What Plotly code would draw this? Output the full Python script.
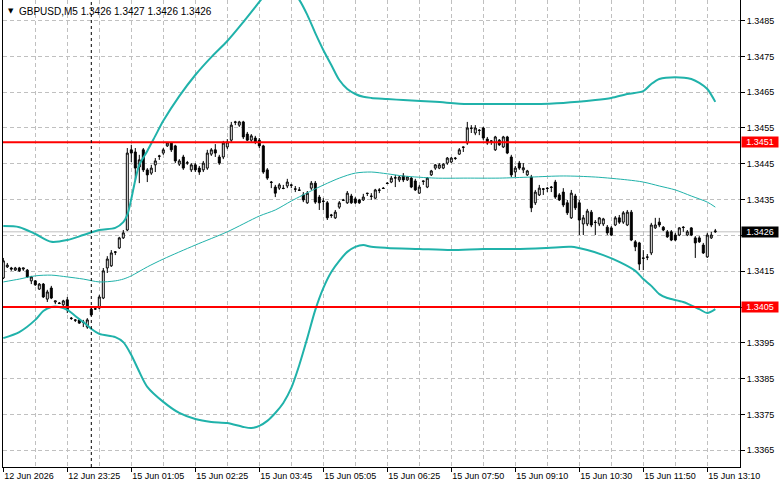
import plotly.graph_objects as go

# ---------------- data ----------------
symbol_title = "GBPUSD,M5 1.3426 1.3427 1.3426 1.3426"

opens = [1.34131,1.34162,1.34159,1.34153,1.34159,1.34156,1.34153,1.34123,1.34123,1.34100,
1.34114,1.34072,1.34103,1.34064,1.34061,1.34056,1.34070,1.34019,1.34014,1.34014,
1.34008,1.33994,1.34044,1.34044,1.34047,1.34075,1.34159,1.34165,1.34204,1.34215,
1.34243,1.34265,1.34489,1.34483,1.34441,1.34489,1.34433,1.34424,1.34447,1.34472,
1.34480,1.34500,1.34508,1.34500,1.34449,1.34469,1.34452,1.34433,1.34447,1.34438,
1.34433,1.34438,1.34477,1.34489,1.34469,1.34469,1.34497,1.34516,1.34567,1.34558,
1.34567,1.34533,1.34516,1.34522,1.34516,1.34500,1.34433,1.34399,1.34385,1.34382,
1.34382,1.34388,1.34391,1.34380,1.34377,1.34363,1.34341,1.34382,1.34396,1.34357,
1.34346,1.34341,1.34307,1.34299,1.34329,1.34349,1.34341,1.34360,1.34352,1.34349,
1.34349,1.34368,1.34360,1.34354,1.34377,1.34382,1.34396,1.34399,1.34410,1.34405,
1.34416,1.34405,1.34410,1.34402,1.34368,1.34402,1.34385,1.34419,1.34438,1.34438,
1.34438,1.34452,1.34455,1.34466,1.34477,1.34497,1.34508,1.34550,1.34536,1.34544,
1.34550,1.34519,1.34514,1.34489,1.34516,1.34497,1.34525,1.34469,1.34427,1.34452,
1.34433,1.34419,1.34413,1.34341,1.34363,1.34380,1.34382,1.34385,1.34399,1.34363,
1.34371,1.34341,1.34299,1.34360,1.34341,1.34282,1.34282,1.34315,1.34287,1.34282,
1.34282,1.34273,1.34271,1.34279,1.34299,1.34287,1.34279,1.34315,1.34232,1.34229,
1.34187,1.34190,1.34201,1.34271,1.34287,1.34273,1.34260,1.34260,1.34251,1.34251,
1.34273,1.34251,1.34271,1.34243,1.34243,1.34223,1.34190,1.34243,1.34260]

highs = [1.34187,1.34173,1.34162,1.34162,1.34162,1.34159,1.34156,1.34137,1.34125,1.34117,
1.34117,1.34098,1.34109,1.34067,1.34064,1.34070,1.34078,1.34022,1.34016,1.34016,
1.34014,1.34019,1.34047,1.34047,1.34084,1.34159,1.34192,1.34209,1.34206,1.34246,
1.34265,1.34494,1.34503,1.34494,1.34475,1.34494,1.34438,1.34447,1.34466,1.34475,
1.34494,1.34511,1.34511,1.34503,1.34463,1.34475,1.34458,1.34452,1.34452,1.34444,
1.34458,1.34489,1.34494,1.34505,1.34475,1.34514,1.34519,1.34567,1.34570,1.34570,
1.34570,1.34539,1.34533,1.34528,1.34522,1.34503,1.34438,1.34402,1.34391,1.34396,
1.34391,1.34408,1.34394,1.34388,1.34385,1.34371,1.34374,1.34402,1.34402,1.34363,
1.34354,1.34346,1.34310,1.34321,1.34346,1.34352,1.34374,1.34366,1.34357,1.34352,
1.34366,1.34369,1.34368,1.34380,1.34382,1.34385,1.34399,1.34416,1.34419,1.34416,
1.34424,1.34416,1.34413,1.34408,1.34391,1.34403,1.34413,1.34433,1.34449,1.34452,
1.34452,1.34469,1.34469,1.34469,1.34494,1.34498,1.34567,1.34558,1.34558,1.34547,
1.34553,1.34525,1.34516,1.34528,1.34519,1.34528,1.34528,1.34475,1.34444,1.34458,
1.34452,1.34433,1.34419,1.34377,1.34391,1.34382,1.34385,1.34388,1.34405,1.34368,
1.34382,1.34349,1.34377,1.34366,1.34349,1.34307,1.34324,1.34321,1.34293,1.34301,
1.34299,1.34279,1.34276,1.34304,1.34307,1.34318,1.34321,1.34321,1.34237,1.34232,
1.34209,1.34198,1.34285,1.34299,1.34299,1.34276,1.34265,1.34265,1.34257,1.34273,
1.34276,1.34265,1.34273,1.34248,1.34248,1.34229,1.34257,1.34260,1.34268]

lows = [1.34128,1.34159,1.34151,1.34151,1.34148,1.34151,1.34131,1.34114,1.34109,1.34098,
1.34075,1.34064,1.34072,1.34058,1.34058,1.34053,1.34033,1.34014,1.34008,1.34003,
1.33994,1.33989,1.34025,1.34042,1.34044,1.34072,1.34145,1.34162,1.34195,1.34212,
1.34240,1.34262,1.34455,1.34405,1.34396,1.34427,1.34399,1.34419,1.34427,1.34461,
1.34475,1.34497,1.34483,1.34452,1.34444,1.34433,1.34447,1.34427,1.34427,1.34419,
1.34427,1.34433,1.34472,1.34469,1.34447,1.34463,1.34491,1.34511,1.34558,1.34553,
1.34519,1.34514,1.34511,1.34505,1.34494,1.34422,1.34405,1.34382,1.34357,1.34377,
1.34379,1.34382,1.34382,1.34371,1.34374,1.34343,1.34338,1.34377,1.34338,1.34321,
1.34321,1.34293,1.34299,1.34296,1.34324,1.34346,1.34338,1.34338,1.34338,1.34338,
1.34346,1.34360,1.34349,1.34352,1.34368,1.34380,1.34393,1.34396,1.34385,1.34399,
1.34399,1.34402,1.34382,1.34374,1.34366,1.34391,1.34382,1.34416,1.34433,1.34435,
1.34435,1.34447,1.34452,1.34461,1.34475,1.34483,1.34503,1.34536,1.34530,1.34530,
1.34516,1.34503,1.34503,1.34486,1.34500,1.34494,1.34477,1.34413,1.34413,1.34433,
1.34424,1.34416,1.34315,1.34335,1.34360,1.34363,1.34371,1.34371,1.34352,1.34346,
1.34329,1.34307,1.34296,1.34321,1.34251,1.34251,1.34276,1.34273,1.34251,1.34276,
1.34276,1.34251,1.34248,1.34276,1.34282,1.34282,1.34276,1.34234,1.34206,1.34153,
1.34153,1.34181,1.34195,1.34268,1.34273,1.34262,1.34243,1.34234,1.34234,1.34248,
1.34260,1.34248,1.34248,1.34187,1.34229,1.34198,1.34187,1.34240,1.34257]

closes = [1.34179,1.34167,1.34156,1.34159,1.34151,1.34159,1.34134,1.34134,1.34112,1.34114,
1.34078,1.34092,1.34075,1.34067,1.34060,1.34067,1.34042,1.34018,1.34013,1.34005,
1.34007,1.34014,1.34028,1.34045,1.34078,1.34151,1.34184,1.34201,1.34203,1.34243,
1.34257,1.34480,1.34480,1.34438,1.34461,1.34433,1.34419,1.34438,1.34458,1.34471,
1.34489,1.34508,1.34489,1.34458,1.34458,1.34438,1.34453,1.34447,1.34433,1.34427,
1.34452,1.34480,1.34489,1.34480,1.34452,1.34508,1.34511,1.34558,1.34566,1.34567,
1.34525,1.34516,1.34528,1.34511,1.34500,1.34427,1.34410,1.34398,1.34368,1.34391,
1.34381,1.34399,1.34390,1.34379,1.34376,1.34349,1.34368,1.34396,1.34343,1.34341,
1.34345,1.34299,1.34306,1.34315,1.34341,1.34348,1.34368,1.34341,1.34341,1.34341,
1.34357,1.34367,1.34359,1.34377,1.34376,1.34381,1.34395,1.34410,1.34411,1.34413,
1.34405,1.34413,1.34385,1.34377,1.34385,1.34401,1.34410,1.34430,1.34447,1.34447,
1.34449,1.34466,1.34466,1.34465,1.34489,1.34496,1.34550,1.34549,1.34550,1.34543,
1.34522,1.34508,1.34513,1.34525,1.34503,1.34525,1.34480,1.34419,1.34438,1.34438,
1.34439,1.34430,1.34327,1.34371,1.34382,1.34379,1.34381,1.34384,1.34357,1.34349,
1.34335,1.34313,1.34368,1.34327,1.34293,1.34299,1.34318,1.34279,1.34286,1.34299,
1.34296,1.34257,1.34251,1.34299,1.34287,1.34313,1.34315,1.34237,1.34218,1.34170,
1.34186,1.34189,1.34279,1.34279,1.34279,1.34265,1.34246,1.34237,1.34237,1.34271,
1.34272,1.34260,1.34251,1.34229,1.34232,1.34201,1.34251,1.34251,1.34262]

# Bollinger band readings (bar index, price)
upper_idx = [0,4,8,12,16,20,24,28,30,31,32,33,34,36,38,40,44,48,52,56,60,64,66,68,70,72,74,76,78,80,
             82,84,86,88,90,92,96,100,108,116,124,132,140,148,152,156,160,162,164,168,172,174,176,178]
upper_val = [1.34276,1.34273,1.34254,1.34232,1.34237,1.34251,1.34265,1.34271,1.34287,1.34307,
             1.34352,1.34405,1.34447,1.34486,1.34528,1.34570,1.34639,1.34698,1.34748,1.34793,
             1.34846,1.34902,1.34930,1.34944,1.34946,1.34935,1.34908,1.34866,1.34815,1.34768,
             1.34726,1.34684,1.34659,1.34645,1.34637,1.34634,1.34631,1.34628,1.34623,1.34617,
             1.34617,1.34617,1.34620,1.34628,1.34634,1.34645,1.34653,1.34673,1.34687,1.34692,
             1.34687,1.34676,1.34659,1.34623]

middle_idx = [0,4,8,12,16,20,24,28,30,32,36,40,48,56,64,68,72,78,84,88,92,96,100,108,116,124,132,
              140,148,156,160,164,168,172,176,178]
middle_val = [1.34120,1.34128,1.34137,1.34139,1.34134,1.34128,1.34120,1.34123,1.34128,1.34137,
              1.34162,1.34184,1.34223,1.34260,1.34304,1.34321,1.34346,1.34380,1.34410,1.34424,
              1.34427,1.34422,1.34416,1.34410,1.34410,1.34410,1.34413,1.34416,1.34413,1.34405,
              1.34399,1.34388,1.34377,1.34360,1.34343,1.34329]

lower_idx = [0,4,8,10,12,14,16,18,20,22,24,28,30,32,34,36,40,44,48,52,56,60,62,64,66,68,70,72,74,76,
             78,80,82,84,86,88,90,92,96,104,112,120,128,136,142,146,150,154,158,160,162,164,166,170,
             174,176,178]
lower_val = [1.33963,1.33980,1.34014,1.34039,1.34050,1.34050,1.34042,1.34025,1.34008,1.33989,
             1.33975,1.33966,1.33952,1.33916,1.33869,1.33827,1.33785,1.33754,1.33737,1.33729,
             1.33726,1.33715,1.33712,1.33718,1.33732,1.33754,1.33782,1.33824,1.33888,1.33963,
             1.34042,1.34103,1.34148,1.34179,1.34204,1.34218,1.34223,1.34218,1.34215,1.34212,
             1.34209,1.34212,1.34212,1.34215,1.34218,1.34209,1.34195,1.34176,1.34151,1.34128,
             1.34109,1.34086,1.34075,1.34064,1.34044,1.34033,1.34044]

level_lines = [1.3451, 1.3405]
bid_price = 1.3426
day_separator_idx = 22

tick_idx = [0,16,32,48,64,80,96,112,128,144,160,176]
tick_labels = ["12 Jun 2026","12 Jun 23:25","15 Jun 01:05","15 Jun 02:25","15 Jun 03:45",
               "15 Jun 05:05","15 Jun 06:25","15 Jun 07:50","15 Jun 09:10","15 Jun 10:30",
               "15 Jun 11:50","15 Jun 13:10"]
price_ticks = [1.3365,1.3375,1.3385,1.3395,1.3405,1.3415,1.3425,1.3435,1.3445,1.3455,1.3465,1.3475,1.3485]

# ---------------- figure ----------------
FONT = "Liberation Sans, Arial, sans-serif"
BAND = "#20B2AA"
bars = list(range(len(closes)))

fig = go.Figure()

fig.add_trace(go.Candlestick(
    x=bars, open=opens, high=highs, low=lows, close=closes,
    increasing=dict(line=dict(color="black", width=1), fillcolor="white"),
    decreasing=dict(line=dict(color="black", width=1), fillcolor="black"),
    whiskerwidth=0, hoverinfo="skip", showlegend=False))

for xs, ys, w in [(upper_idx, upper_val, 2), (lower_idx, lower_val, 2), (middle_idx, middle_val, 1)]:
    fig.add_trace(go.Scatter(x=xs, y=ys, mode="lines",
                             line=dict(color=BAND, width=w, shape="spline", smoothing=0.8),
                             hoverinfo="skip", showlegend=False))

# bid line
fig.add_shape(type="line", xref="paper", x0=0, x1=1, yref="y", y0=bid_price, y1=bid_price,
              line=dict(color="#C0C0C0", width=1), layer="below")
# level lines
for lv in level_lines:
    fig.add_shape(type="line", xref="paper", x0=0, x1=1, yref="y", y0=lv, y1=lv,
                  line=dict(color="red", width=2), layer="above")
# day separator
fig.add_shape(type="line", xref="x", x0=day_separator_idx, x1=day_separator_idx, yref="paper", y0=0, y1=1,
              line=dict(color="black", width=1, dash="3px,3px"), layer="above")

# price labels on the right axis
for lv in level_lines:
    fig.add_annotation(x=1, xref="paper", y=lv, yref="y", xanchor="left", xshift=1,
                       text=f"{lv:.4f}", showarrow=False, bgcolor="red", width=36, height=10,
                       font=dict(family=FONT, size=9, color="white"), borderpad=0)
fig.add_annotation(x=1, xref="paper", y=bid_price, yref="y", xanchor="left", xshift=1,
                   text=f"{bid_price:.4f}", showarrow=False, bgcolor="black", width=36, height=10,
                   font=dict(family=FONT, size=9, color="white"), borderpad=0)

# header
fig.add_annotation(x=0, xref="paper", y=1, yref="paper", xanchor="left", yanchor="middle",
                   xshift=3, yshift=-11, text="▼", showarrow=False,
                   font=dict(family="DejaVu Sans", size=7, color="black"))
fig.add_annotation(x=0, xref="paper", y=1, yref="paper", xanchor="left", yanchor="middle",
                   xshift=14, yshift=-11, text=symbol_title, showarrow=False,
                   font=dict(family=FONT, size=10, color="black"))

# the bid label covers the 1.3425 tick label, as in the terminal
price_tick_text = ["" if abs(v - bid_price) < 0.0003 else f"{v:.4f}" for v in price_ticks]

grid_dash = "4px,3px"
fig.update_layout(
    width=781, height=489,
    margin=dict(l=3, r=41, t=0, b=22),
    paper_bgcolor="white", plot_bgcolor="white",
    font=dict(family=FONT, size=9, color="black"),
    showlegend=False,
    xaxis=dict(range=[-0.075, 184.175], rangeslider=dict(visible=False),
               tickmode="array", tickvals=tick_idx, ticktext=tick_labels,
               ticks="outside", ticklen=4, tickcolor="black", ticklabelposition="outside right",
               showline=True, linecolor="black", linewidth=1, mirror=False,
               showgrid=True, gridcolor="#C0C0C0", griddash=grid_dash, gridwidth=1,
               minor=dict(dtick=8, tick0=0, showgrid=True, gridcolor="#C0C0C0", griddash=grid_dash, ticks=""),
               zeroline=False, fixedrange=True),
    yaxis=dict(side="right", range=[1.336031, 1.349075],
               tickmode="array", tickvals=price_ticks, ticktext=price_tick_text,
               ticks="outside", ticklen=4, tickcolor="black",
               showline=True, linecolor="black", linewidth=1, mirror=True,
               showgrid=True, gridcolor="#C0C0C0", griddash=grid_dash, gridwidth=1,
               zeroline=False, fixedrange=True),
)

fig.write_html("out.html")
